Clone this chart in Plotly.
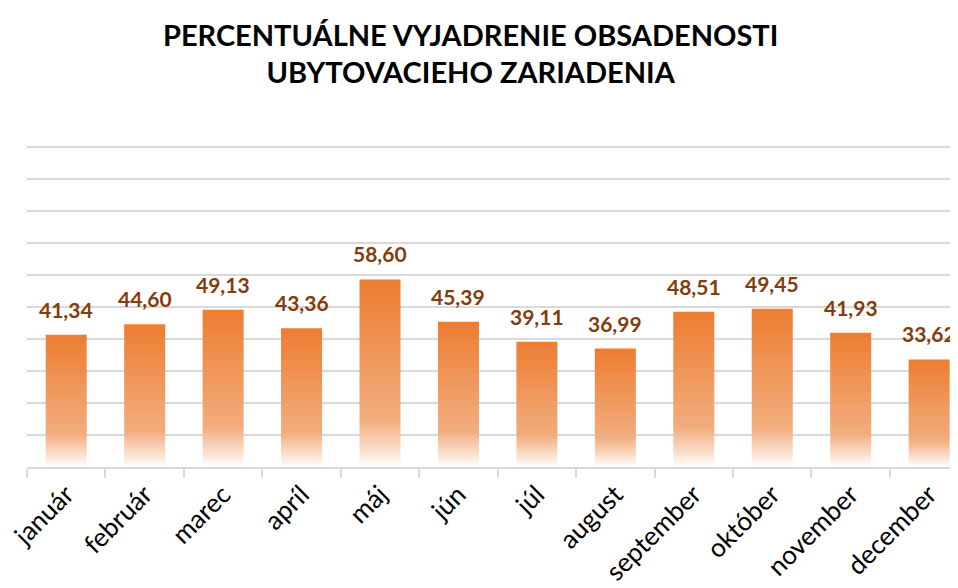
import plotly.graph_objects as go

months = ["január", "február", "marec", "apríl", "máj", "jún", "júl",
          "august", "september", "október", "november", "december"]
occupancy = [41.34, 44.60, 49.13, 43.36, 58.60, 45.39, 39.11,
             36.99, 48.51, 49.45, 41.93, 33.62]
title_text = "PERCENTUÁLNE VYJADRENIE OBSADENOSTI<br>UBYTOVACIEHO ZARIADENIA"

BAR_W = 0.523
FONT = "Lato"
LABEL_COLOR = "#843C0C"
GRID = "#d9d9d9"

fig = go.Figure()
for i, v in enumerate(occupancy):
    x0, x1 = i - BAR_W / 2, i + BAR_W / 2
    fig.add_trace(go.Scatter(
        x=[x0, x1, x1, x0, x0], y=[0, 0, v, v, 0],
        mode="lines", line=dict(width=0), fill="toself",
        fillgradient=dict(type="vertical", start=0, stop=v,
                          colorscale=[[0, "#FFFFFF"], [0.08, "#FBE3D3"],
                                      [0.25, "#F2AD7E"], [1, "#ED7D31"]]),
        hoverinfo="text", text=f"{months[i]}: {v:.2f}".replace(".", ","),
        showlegend=False))

annotations = [dict(x=i, y=v, xref="x", yref="y", yanchor="bottom",
                    yshift=11, showarrow=False,
                    text=f"{v:.2f}".replace(".", ","),
                    font=dict(family=FONT, size=21, color=LABEL_COLOR,
                              weight="bold"))
               for i, v in enumerate(occupancy)]

# the page body has an 8px default margin, so the figure is sized to fit
fig.update_layout(
    width=950, height=580,
    margin=dict(l=19, r=0, t=137, b=121),
    paper_bgcolor="white", plot_bgcolor="white",
    title=dict(text=title_text, x=0.487, xanchor="center", y=0.935,
               yanchor="top",
               font=dict(family=FONT, size=29, color="#000000",
                         weight="bold")),
    annotations=annotations,
    xaxis=dict(range=[-0.5, 11.368], tickmode="array", automargin=False,
               tickvals=list(range(len(months))), ticktext=months,
               tickangle=-45, ticks="", showgrid=False, zeroline=False,
               ticklabeloverflow="allow",
               showline=True, linecolor=GRID, linewidth=2,
               tickfont=dict(family=FONT, size=26, color="#000000"),
               minor=dict(tickvals=[i - 0.5 for i in range(len(months) + 1)],
                          ticks="outside", ticklen=9, tickcolor=GRID,
                          tickwidth=2, showgrid=False)),
    yaxis=dict(range=[0, 100.6], tickmode="linear", tick0=0, dtick=10,
               showticklabels=False, automargin=False,
               showgrid=True, gridcolor=GRID, gridwidth=2,
               zeroline=False, showline=False, ticks=""),
)

fig.write_html("out.html")
